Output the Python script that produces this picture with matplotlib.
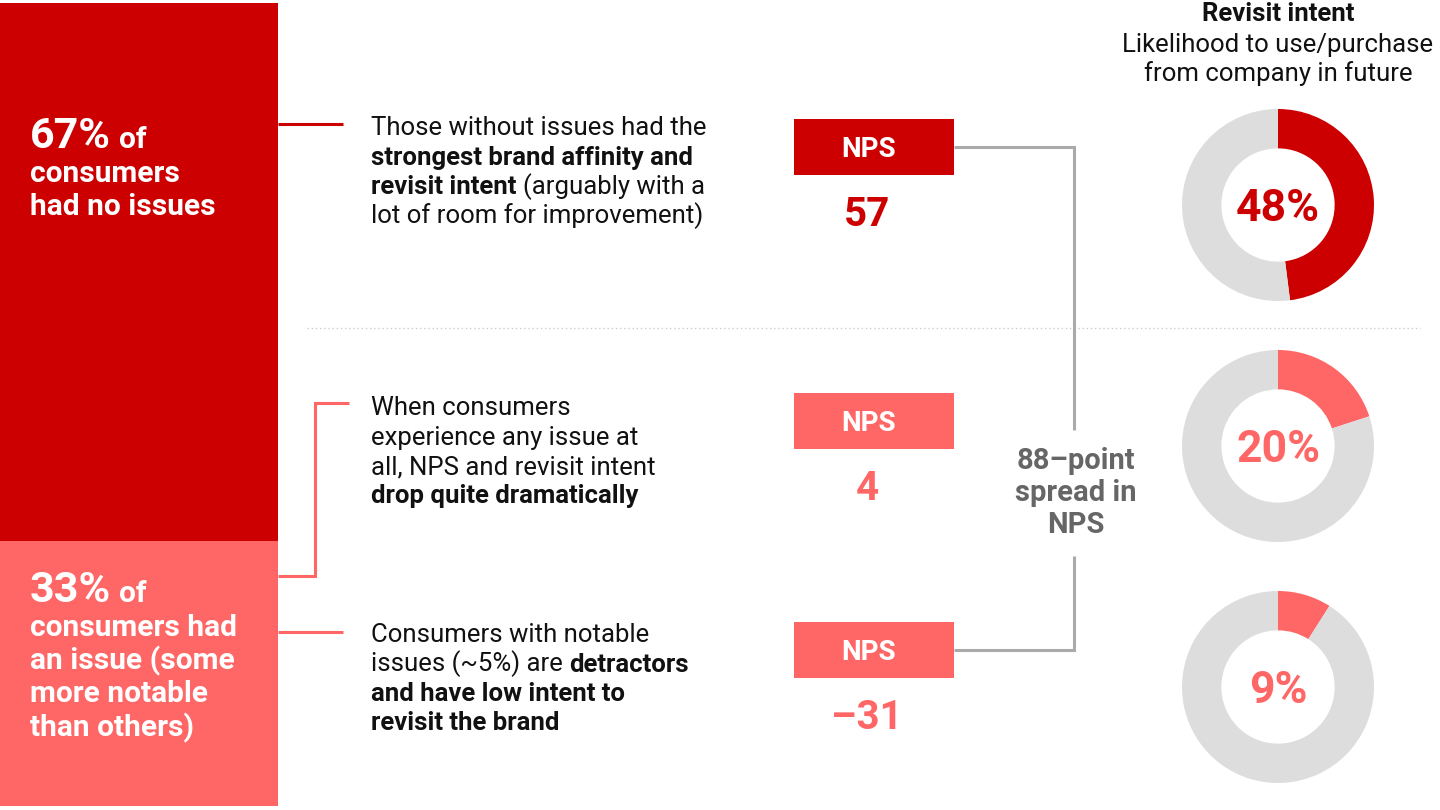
import matplotlib.pyplot as plt

plt.rcParams["font.family"] = ["Roboto", "DejaVu Sans"]

# data
shares = [67, 33]
share_text = ["of\nconsumers\nhad no issues", "of\nconsumers had\nan issue (some\nmore notable\nthan others)"]
nps = [57, 4, -31]
revisit = [48, 20, 9]

RED = "#CC0000"
PINK = "#FF6666"
GREY = "#DDDDDD"
LINE_GREY = "#AAAAAA"
row_colors = [RED, PINK, PINK]

blurbs = [
    [[("Those without issues had the", "normal")],
     [("strongest brand affinity and", "bold")],
     [("revisit intent", "bold"), (" (arguably with a", "normal")],
     [("lot of room for improvement)", "normal")]],
    [[("When consumers", "normal")],
     [("experience any issue at", "normal")],
     [("all, NPS and revisit intent", "normal")],
     [("drop quite dramatically", "bold")]],
    [[("Consumers with notable", "normal")],
     [("issues (~5%) are", "normal"), (" detractors", "bold")],
     [("and have low intent to", "bold")],
     [("revisit the brand", "bold")]],
]

fig = plt.figure(figsize=(14.4, 8.1), dpi=100)
ax = fig.add_axes([0, 0, 1, 1])
ax.set_xlim(0, 1440)
ax.set_ylim(810, 0)
ax.axis("off")
renderer = fig.canvas.get_renderer()


def width_of(s, size, weight):
    t = ax.text(0, 0, s, fontsize=size, fontweight=weight)
    w = t.get_window_extent(renderer).width
    t.remove()
    return w


def rich_line(x, y, parts, color="#111111"):
    for s, size, weight in parts:
        if s.startswith(" "):
            x += width_of("a a", size, weight) - width_of("aa", size, weight)
            s = s.lstrip()
        t = ax.text(x, y, s, fontsize=size, fontweight=weight, color=color, va="baseline")
        x += t.get_window_extent(renderer).width


# left stacked bar
top, bottom = 3, 806
heights = [s / 100 * (bottom - top) for s in shares]
ax.bar([0, 0], heights, bottom=[top, top + heights[0]], width=278, align="edge",
       color=[RED, PINK], edgecolor="none")

starts = [148, 602]
for i, s in enumerate(shares):
    lines = share_text[i].split("\n")
    rich_line(30, starts[i], [(f"{s}%", 31, "bold"), (" " + lines[0], 21.5, "bold")], "white")
    for j, ln in enumerate(lines[1:]):
        ax.text(30, starts[i] + 33.5 * (j + 1), ln, fontsize=21.5, fontweight="bold",
                color="white", va="baseline")

# connectors from bar to text
ax.plot([278, 343], [124, 124], color=RED, lw=2.2, solid_capstyle="butt")
ax.plot([278, 315, 315, 349], [576, 576, 403, 403], color=PINK, lw=2.2,
        solid_joinstyle="miter", solid_capstyle="butt")
ax.plot([278, 343], [632, 632], color=PINK, lw=2.2, solid_capstyle="butt")

# separator
ax.plot([307, 1420], [328, 328], color="#CCCCCC", lw=1, ls=(0, (1, 2)))

# blurbs
blurb_y = [135, 415, 642]
for b, y0 in zip(blurbs, blurb_y):
    for j, ln in enumerate(b):
        rich_line(371, y0 + 29.5 * j, [(s, 18.5, w) for s, w in ln])

# NPS boxes
box_cy = [147, 421, 650]
for v, cy, c in zip(nps, box_cy, row_colors):
    ax.add_patch(plt.Rectangle((794, cy - 28), 160, 56, color=c, lw=0))
    ax.text(869, cy + 10, "NPS", fontsize=20, fontweight="bold", color="white",
            ha="center", va="baseline")
    lab = f"{v}" if v >= 0 else f"\u2013{abs(v)}"
    ax.text(867, cy + 79, lab, fontsize=29, fontweight="bold", color=c,
            ha="center", va="baseline")

# spread bracket
ax.plot([954, 1074, 1074], [box_cy[0], box_cy[0], 430], color=LINE_GREY, lw=2.2,
        solid_joinstyle="miter", solid_capstyle="butt")
ax.plot([1074, 1074, 954], [556, box_cy[2], box_cy[2]], color=LINE_GREY, lw=2.2,
        solid_joinstyle="miter", solid_capstyle="butt")
spread_lines = [f"{nps[0] - nps[2]}\u2013point", "spread in", "NPS"]
for j, ln in enumerate(spread_lines):
    ax.text(1076, 469 + 32 * j, ln, fontsize=21, fontweight="bold", color="#666666",
            ha="center", va="baseline")

# header
ax.text(1278, 21, "Revisit intent", fontsize=18.5, fontweight="bold", color="#111111",
        ha="center", va="baseline")
ax.text(1278, 52, "Likelihood to use/purchase", fontsize=18.5, color="#111111",
        ha="center", va="baseline")
ax.text(1278, 81, "from company in future", fontsize=18.5, color="#111111",
        ha="center", va="baseline")

# donuts
donut_cy = [205, 446, 687]
R = 96
for v, cy, c in zip(revisit, donut_cy, row_colors):
    dax = fig.add_axes([(1278 - R) / 1440, 1 - (cy + R) / 810, 2 * R / 1440, 2 * R / 810])
    dax.pie([v, 100 - v], radius=1, startangle=90, counterclock=False, colors=[c, GREY],
            wedgeprops=dict(width=0.41, edgecolor="none"))
    dax.set_xlim(-1, 1)
    dax.set_ylim(-1, 1)
    dax.axis("off")
    ax.text(1278, cy + 16, f"{v}%", fontsize=32, fontweight="bold", color=c,
            ha="center", va="baseline", zorder=5)

fig.savefig("out.png", dpi=100)
